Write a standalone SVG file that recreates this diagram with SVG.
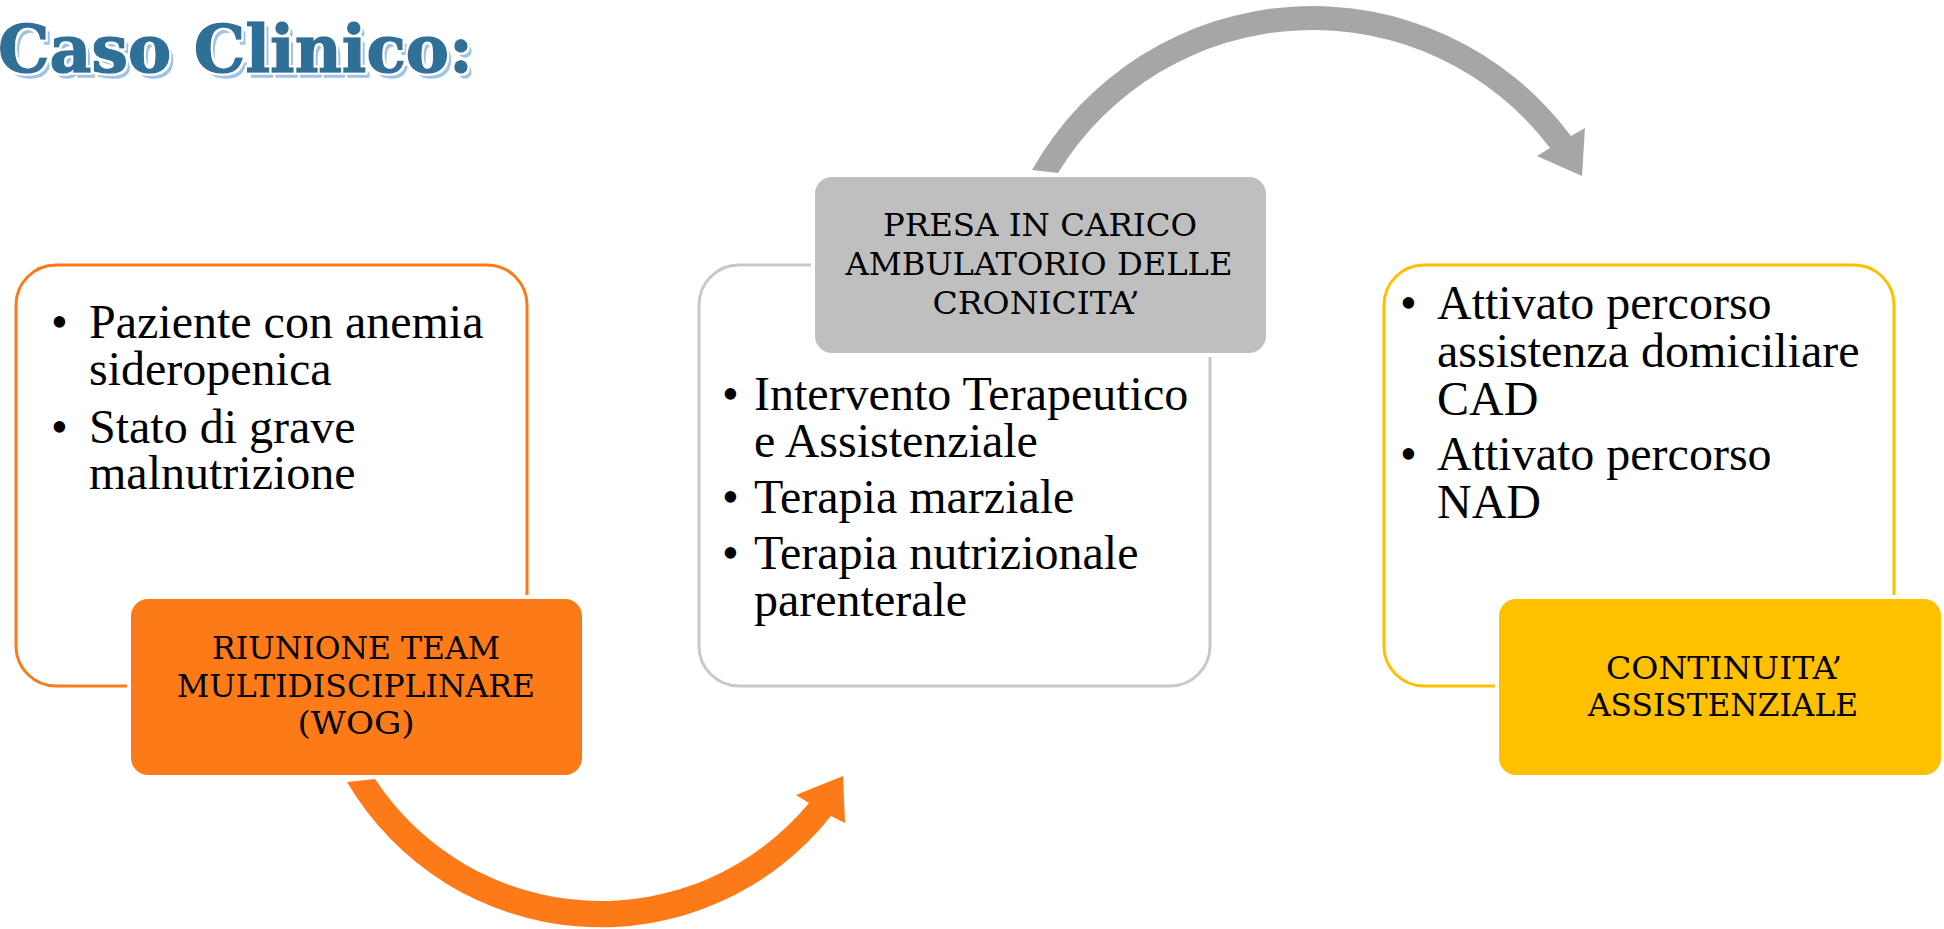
<svg xmlns="http://www.w3.org/2000/svg" width="1944" height="929" viewBox="0 0 1944 929">
<defs>
<filter id="titleFx" x="-5%" y="-20%" width="115%" height="150%">
<feOffset in="SourceAlpha" dx="4" dy="5" result="off"/>
<feFlood flood-color="#9DC3E6" result="blue"/>
<feComposite in="blue" in2="off" operator="in" result="shadow"/>
<feMorphology in="SourceAlpha" operator="dilate" radius="2" result="dil"/>
<feFlood flood-color="#ffffff" result="white"/>
<feComposite in="white" in2="dil" operator="in" result="halo"/>
<feMerge><feMergeNode in="shadow"/><feMergeNode in="halo"/><feMergeNode in="SourceGraphic"/></feMerge>
</filter>
</defs>
<style>
.body{font-family:"Liberation Serif","Times New Roman",serif;font-size:48px;fill:#000}
.head{font-family:"DejaVu Serif",serif;font-size:31px;fill:#000;text-anchor:middle}
.title{font-family:"DejaVu Serif",serif;font-weight:bold;font-size:66px;fill:#2E7098;stroke:#2E7098;stroke-width:1.5}
.outline{fill:#fff;stroke-width:3}
.solid{stroke:#fff;stroke-width:8;paint-order:stroke}
</style>
<rect width="1944" height="929" fill="#fff"/>
<g id="title">
<text class="title" x="-2" y="72" filter="url(#titleFx)" textLength="475" lengthAdjust="spacingAndGlyphs">Caso Clinico:</text>
</g>
<g id="connectors">
<path id="arrow-orange" fill="#FD7A18" d="M 347,782 A 294 294 0 0 0 831,816 L 845,823 L 843,776 L 796,795 L 809,803 A 270 270 0 0 1 375,779 Z"/>
<path id="arrow-grey" fill="#A6A6A6" d="M 1032,170 A 322 322 0 0 1 1571,136 L 1585,128 L 1582,176 L 1537,156 L 1550,148 A 298 298 0 0 0 1058,173 Z"/>
</g>
<g id="node-paziente">
<rect class="outline" x="16" y="265" width="511" height="421" rx="40" stroke="#FD7A18"/>
<text class="body" y="338"><tspan x="51">•</tspan><tspan x="89">Paziente con anemia</tspan><tspan x="89" y="385">sideropenica</tspan></text>
<text class="body" y="443"><tspan x="51">•</tspan><tspan x="89">Stato di grave</tspan><tspan x="89" y="489">malnutrizione</tspan></text>
</g>
<g id="node-riunione">
<rect class="solid" x="131" y="599" width="451" height="176" rx="17" fill="#FD7A18"/>
<text class="head" x="356" y="659" textLength="288" lengthAdjust="spacingAndGlyphs">RIUNIONE TEAM</text>
<text class="head" x="356" y="697" textLength="358" lengthAdjust="spacingAndGlyphs">MULTIDISCIPLINARE</text>
<text class="head" x="356" y="734" textLength="117" lengthAdjust="spacingAndGlyphs">(WOG)</text>
</g>
<g id="node-intervento">
<rect class="outline" x="699" y="265" width="511" height="421" rx="40" stroke="#C8C8C8"/>
<text class="body" y="410"><tspan x="722">•</tspan><tspan x="754">Intervento Terapeutico</tspan><tspan x="754" y="457">e Assistenziale</tspan></text>
<text class="body" y="513"><tspan x="722">•</tspan><tspan x="754">Terapia marziale</tspan></text>
<text class="body" y="569"><tspan x="722">•</tspan><tspan x="754">Terapia nutrizionale</tspan><tspan x="754" y="616">parenterale</tspan></text>
</g>
<g id="node-presa">
<rect class="solid" x="815" y="177" width="451" height="176" rx="17" fill="#BFBFBF"/>
<text class="head" x="1040" y="236" textLength="314" lengthAdjust="spacingAndGlyphs">PRESA IN CARICO</text>
<text class="head" x="1039" y="275" textLength="387" lengthAdjust="spacingAndGlyphs">AMBULATORIO DELLE</text>
<text class="head" x="1036" y="314" textLength="207" lengthAdjust="spacingAndGlyphs">CRONICITA’</text>
</g>
<g id="node-attivato">
<rect class="outline" x="1384" y="265" width="510" height="421" rx="40" stroke="#FFC000"/>
<text class="body" y="319"><tspan x="1400">•</tspan><tspan x="1437">Attivato percorso</tspan><tspan x="1437" y="367">assistenza domiciliare</tspan><tspan x="1437" y="415">CAD</tspan></text>
<text class="body" y="470"><tspan x="1400">•</tspan><tspan x="1437">Attivato percorso</tspan><tspan x="1437" y="518">NAD</tspan></text>
</g>
<g id="node-continuita">
<rect class="solid" x="1499" y="599" width="442" height="176" rx="17" fill="#FFC000"/>
<text class="head" x="1724" y="679" textLength="236" lengthAdjust="spacingAndGlyphs">CONTINUITA’</text>
<text class="head" x="1723" y="716" textLength="270" lengthAdjust="spacingAndGlyphs">ASSISTENZIALE</text>
</g>
</svg>
